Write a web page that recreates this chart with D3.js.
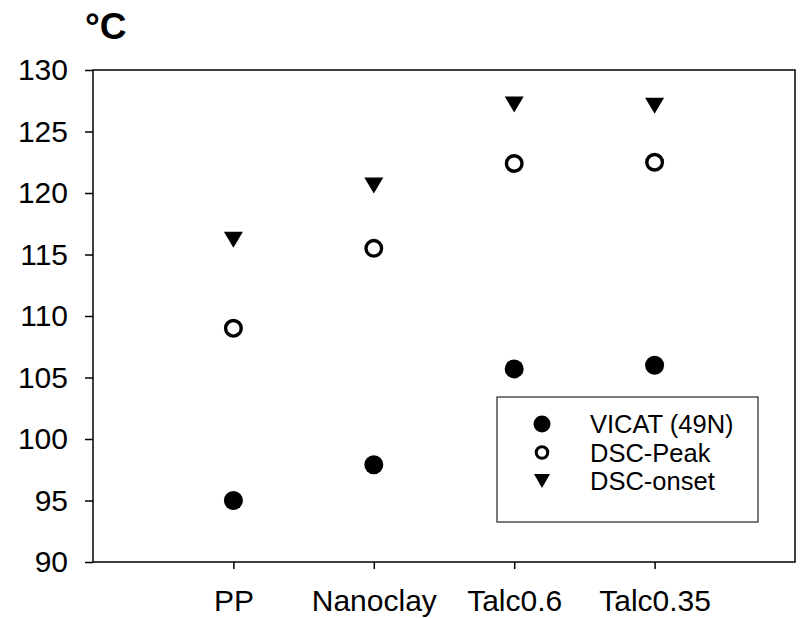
<!DOCTYPE html>
<html>
<head>
  <meta charset="utf-8">
  <title>Softening temperatures</title>
  <script src="https://d3js.org/d3.v7.min.js"></script>
  <style>
    body { margin: 0; background: #fff; font-family: "Liberation Sans", Arial, sans-serif; }
    .frame { fill: none; stroke: #000; stroke-width: 1.5px; }
    .axis path { display: none; }
    .axis line { stroke: #000; stroke-width: 1.5px; }
    .axis text { font-family: "Liberation Sans", Arial, sans-serif; font-size: 30px; fill: #000; }
  </style>
</head>
<body>
  <svg width="800" height="618"></svg>
  <script>
    // data
    var categories = ["PP", "Nanoclay", "Talc0.6", "Talc0.35"];
    var vicat = [95.0, 97.9, 105.7, 106.0];
    var dscPeak = [109.0, 115.5, 122.4, 122.5];
    var dscOnset = [116.2, 120.6, 127.2, 127.1];
    var yTicks = [90, 95, 100, 105, 110, 115, 120, 125, 130];
    var seriesNames = ["VICAT (49N)", "DSC-Peak", "DSC-onset"];

    var margin = {top: 70, right: 5, bottom: 56, left: 93},
        width = 800 - margin.left - margin.right,
        height = 618 - margin.top - margin.bottom;

    var svg = d3.select("svg").append("g")
        .attr("transform", "translate(" + margin.left + "," + margin.top + ")");

    var x = d3.scaleLinear().domain([0, 5]).range([0, width]);
    var y = d3.scaleLinear().domain([90, 130]).range([height, 0]);

    // axes
    svg.append("g")
        .attr("class", "axis")
        .call(d3.axisLeft(y).tickValues(yTicks).tickSize(8).tickPadding(17));

    svg.append("g")
        .attr("class", "axis")
        .attr("transform", "translate(0," + height + ")")
        .call(d3.axisBottom(x).tickValues([1, 2, 3, 4]).tickSize(7).tickPadding(21)
          .tickFormat(function(d) { return categories[d - 1]; }));

    svg.append("rect")
        .attr("class", "frame")
        .attr("width", width)
        .attr("height", height);

    // unit label
    svg.append("text")
        .attr("x", -8)
        .attr("y", -31)
        .style("font-size", "37px")
        .style("font-weight", "bold")
        .text("°C");

    var tri = function(w, h) {
      return "M" + (-w / 2) + "," + (-h / 2) + "L" + (w / 2) + "," + (-h / 2) + "L0," + (h / 2) + "Z";
    };

    function drawSeries(vals, kind) {
      var g = svg.append("g");
      vals.forEach(function(v, i) {
        var cx = x(i + 1), cy = y(v);
        if (kind === 0) {
          g.append("circle").attr("cx", cx).attr("cy", cy).attr("r", 9.5).attr("fill", "#000");
        } else if (kind === 1) {
          g.append("circle").attr("cx", cx).attr("cy", cy).attr("r", 7.8)
            .attr("fill", "none").attr("stroke", "#000").attr("stroke-width", 3.4);
        } else {
          g.append("path").attr("d", tri(19, 16))
            .attr("transform", "translate(" + cx + "," + cy + ")").attr("fill", "#000");
        }
      });
    }
    drawSeries(vicat, 0);
    drawSeries(dscPeak, 1);
    drawSeries(dscOnset, 2);

    // legend
    var leg = d3.select("svg").append("g").attr("transform", "translate(497,397)");
    leg.append("rect")
        .attr("width", 261).attr("height", 125)
        .attr("fill", "#fff").attr("stroke", "#222").attr("stroke-width", 1.2);
    var rowY = [27, 55.5, 84];
    seriesNames.forEach(function(name, i) {
      var r = leg.append("g").attr("transform", "translate(45," + rowY[i] + ")");
      if (i === 0) {
        r.append("circle").attr("r", 8.5).attr("fill", "#000");
      } else if (i === 1) {
        r.append("circle").attr("r", 5.8).attr("fill", "none").attr("stroke", "#000").attr("stroke-width", 3);
      } else {
        r.append("path").attr("d", tri(16, 14)).attr("fill", "#000");
      }
      leg.append("text")
          .attr("x", 93)
          .attr("y", rowY[i] + 9)
          .style("font-size", "25.5px")
          .text(name);
    });
  </script>
</body>
</html>
